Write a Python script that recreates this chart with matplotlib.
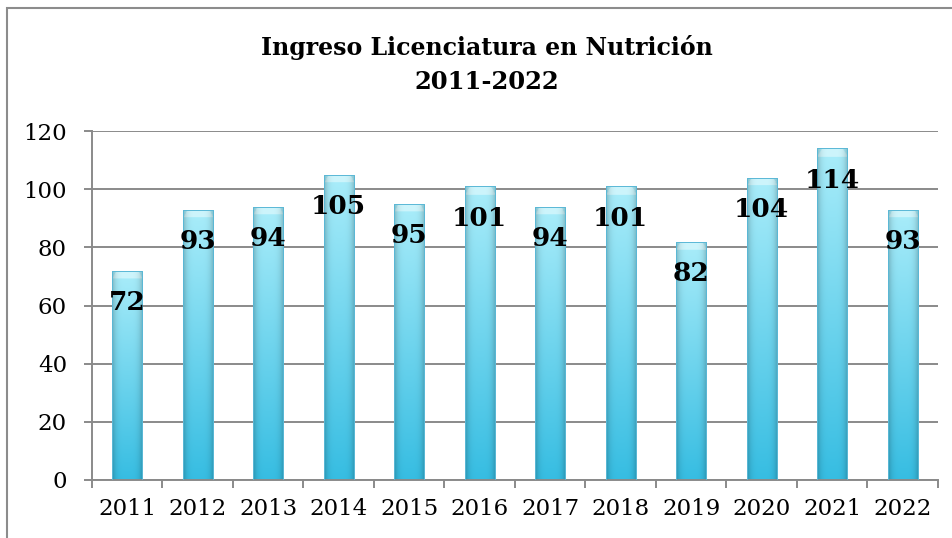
import numpy as np
import matplotlib
matplotlib.use("Agg")
from matplotlib import pyplot as plt
from matplotlib.patches import Rectangle
from matplotlib.colors import to_rgb

years = ["2011", "2012", "2013", "2014", "2015", "2016",
         "2017", "2018", "2019", "2020", "2021", "2022"]
ingreso = [72, 93, 94, 105, 95, 101, 94, 101, 82, 104, 114, 93]
y_ticks = [0, 20, 40, 60, 80, 100, 120]

title_1 = "Ingreso Licenciatura en Nutrición"
title_2 = "2011-2022"

serif = ["DejaVu Serif"]
grid_c = "#8a8a8a"
top_c = np.array(to_rgb("#aaedfa"))
bot_c = np.array(to_rgb("#36bde2"))
cap_c = np.array(to_rgb("#cdf5fc"))

fig = plt.figure(figsize=(9.53, 5.38), dpi=100)
ax = fig.add_axes([92/953, 1 - 480/538, 846/953, (480 - 131)/538])

x = np.arange(len(years))
bars = ax.bar(x, ingreso, width=0.43, color="#5cc6e4", edgecolor="none", zorder=2)

# cylinder-ish shading, drawn into each bar
ypx = 349 / 120.0  # pixels per data unit
for b in bars:
    x0, w, h = b.get_x(), b.get_width(), b.get_height()
    ny, nx = 300, 40
    yy = np.linspace(0, 1, ny)[:, None]
    xx = np.linspace(-1, 1, nx)[None, :]
    base = bot_c + (top_c - bot_c) * yy[..., None]
    shade = 1 - 0.22 * np.abs(xx) ** 4
    img = base * shade[..., None]
    # light bevel at the top
    depth = (h - yy * h) / (8 / ypx)
    capmask = (depth < 1) & (np.abs(xx) < 1 - 0.3 * (1 - depth))
    img = np.where(capmask[..., None], cap_c * shade[..., None], img)
    img = np.clip(img, 0, 1)
    im = ax.imshow(img, extent=(x0, x0 + w, 0, h), origin="lower",
                   aspect="auto", zorder=2.5, interpolation="bilinear")
    im.set_clip_path(b)
    ax.add_patch(Rectangle((x0, 0), w, h, fill=False, edgecolor="#5ab8d6",
                           lw=0.7, zorder=2.6))

for xi, v in zip(x, ingreso):
    ax.annotate(str(v), (xi, v), xytext=(0, -23), textcoords="offset points",
                ha="center", va="center", fontsize=19, fontweight="bold",
                family=serif, zorder=4)

ax.set_xlim(-0.5, len(years) - 0.5)
ax.set_ylim(0, 120)
ax.set_yticks(y_ticks)
ax.set_xticks(x)
ax.set_xticklabels(years)
ax.set_xticks(np.arange(len(years) + 1) - 0.5, minor=True)

ax.grid(axis="y", color=grid_c, lw=1.4, zorder=0)
ax.set_axisbelow(True)
for s in ["top", "right"]:
    ax.spines[s].set_visible(False)
for s in ["left", "bottom"]:
    ax.spines[s].set_color(grid_c)
    ax.spines[s].set_linewidth(1.4)

ax.tick_params(axis="x", which="major", length=0, pad=13, labelsize=16.5)
ax.tick_params(axis="x", which="minor", length=6, width=1.4, color=grid_c)
ax.tick_params(axis="y", length=6, width=1.4, color=grid_c, pad=12, labelsize=16.5)
for lab in ax.get_xticklabels() + ax.get_yticklabels():
    lab.set_family(serif)

fig.text(487/953, 1 - 47/538, title_1, ha="center", va="center",
         fontsize=17, fontweight="bold", family=serif)
fig.text(487/953, 1 - 82/538, title_2, ha="center", va="center",
         fontsize=17.5, fontweight="bold", family=serif)

fig.patches.append(Rectangle((7/953, -0.02), 1.0, 1 - 8/538 + 0.02,
                             transform=fig.transFigure, fill=False,
                             edgecolor="#8c8c8c", lw=1.5))

plt.savefig("out.png", dpi=100)
